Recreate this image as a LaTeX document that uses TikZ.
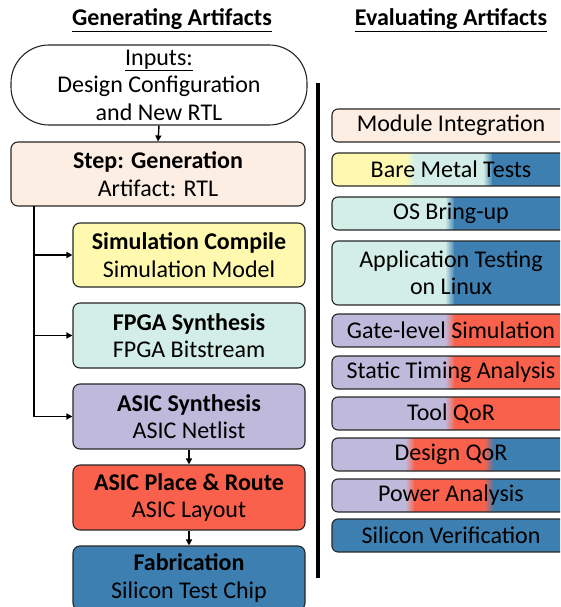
\documentclass[tikz,border=0pt]{standalone}
\usepackage{fontspec}
\setmainfont{Carlito}
\usetikzlibrary{arrows.meta}
\definecolor{cpeach}{HTML}{FCEEE2}
\definecolor{cyellow}{HTML}{FFF9B0}
\definecolor{cteal}{HTML}{D3EDE7}
\definecolor{clav}{HTML}{BFBADB}
\definecolor{cred}{HTML}{F9614D}
\definecolor{cblue}{HTML}{3D7FB0}
\definecolor{cedge}{HTML}{262626}
\tikzset{
  txt/.style={font=\fontsize{24}{27.5}\selectfont},
  title/.style={font=\fontsize{24}{28}\selectfont\bfseries},
  genbox/.style={txt, draw=cedge, line width=1.1pt, rounded corners=7pt, align=center, inner sep=0pt},
  evbox/.style={txt, draw=cedge, line width=1.1pt, rounded corners=6pt, align=center, inner sep=0pt, minimum width=238pt},
  arr/.style={line width=1.4pt, -{Triangle[length=6pt,width=6pt]}},
}
\newcommand\band[3]{\fill[#3] (#1,\ya) rectangle (#2,\yb);}
\newcommand\blend[4]{\shade[left color=#3,right color=#4] (#1,\ya) rectangle (#2,\yb);}
\newcommand\rowclip{\clip[rounded corners=6pt] (332,\ya) rectangle (570,\yb);}
\begin{document}
\begin{tikzpicture}[x=1pt,y=-1pt]
\useasboundingbox (0,0) rectangle (560,607);
\clip (0,0) rectangle (560,607);

% titles
\node[title] (tgen) at (172,20) {\underline{Generating Artifacts}};
\node[title] (tev) at (451,20) {\underline{Evaluating Artifacts}};

% left column
\node[genbox, rounded corners=38pt, minimum width=296pt, minimum height=80pt, fill=white] (inp) at (159,85)
  {\underline{Inputs:}\\Design Configuration\\and New RTL};
\node[genbox, fill=cpeach, minimum width=294pt, minimum height=64pt] (gen) at (158,174)
  {\textbf{Step: Generation}\\Artifact: RTL};
\node[genbox, fill=cyellow, minimum width=232pt, minimum height=64pt] (sim) at (189,255)
  {\textbf{Simulation Compile}\\Simulation Model};
\node[genbox, fill=cteal, minimum width=232pt, minimum height=65pt] (fpga) at (189,335.5)
  {\textbf{FPGA Synthesis}\\FPGA Bitstream};
\node[genbox, fill=clav, minimum width=232pt, minimum height=65pt] (asyn) at (189,416.5)
  {\textbf{ASIC Synthesis}\\ASIC Netlist};
\node[genbox, fill=cred, minimum width=232pt, minimum height=65pt] (pnr) at (189,497.5)
  {\textbf{ASIC Place \& Route}\\ASIC Layout};
\node[genbox, fill=cblue, minimum width=232pt, minimum height=64pt] (fab) at (189,578)
  {\textbf{Fabrication}\\Silicon Test Chip};

\draw[arr] (inp.south) -- (gen.north);
\coordinate (br) at (34,206);
\draw[arr] (br) |- (asyn.west);
\draw[arr] (br |- sim.west) -- (sim.west);
\draw[arr] (br |- fpga.west) -- (fpga.west);
\draw[arr] (asyn.south) -- (pnr.north);
\draw[arr] (pnr.south) -- (fab.north);

% divider
\coordinate (dtop) at (318,83);
\coordinate (dbot) at (318,578);
\draw[line width=3.5pt] (dtop) -- (dbot);

% right column backgrounds
\def\ya{109}\def\yb{142}
\begin{scope}\rowclip \band{332}{570}{cpeach}\end{scope}
\def\ya{153}\def\yb{186}
\begin{scope}\rowclip \band{332}{406}{cyellow}\blend{405}{415}{cyellow}{cteal}\band{414}{484}{cteal}\blend{483}{493}{cteal}{cblue}\band{492}{570}{cblue}\end{scope}
\def\ya{197}\def\yb{230}
\begin{scope}\rowclip \band{332}{446}{cteal}\blend{445}{455}{cteal}{cblue}\band{454}{570}{cblue}\end{scope}
\def\ya{241}\def\yb{305}
\begin{scope}\rowclip \band{332}{446}{cteal}\blend{445}{455}{cteal}{cblue}\band{454}{570}{cblue}\end{scope}
\def\ya{314}\def\yb{347}
\begin{scope}\rowclip \band{332}{446}{clav}\blend{445}{455}{clav}{cred}\band{454}{570}{cred}\end{scope}
\def\ya{356}\def\yb{389}
\begin{scope}\rowclip \band{332}{446}{clav}\blend{445}{455}{clav}{cred}\band{454}{570}{cred}\end{scope}
\def\ya{397}\def\yb{430}
\begin{scope}\rowclip \band{332}{446}{clav}\blend{445}{455}{clav}{cred}\band{454}{570}{cred}\end{scope}
\def\ya{438}\def\yb{471}
\begin{scope}\rowclip \band{332}{406}{clav}\blend{405}{415}{clav}{cred}\band{414}{485}{cred}\blend{484}{494}{cred}{cblue}\band{493}{570}{cblue}\end{scope}
\def\ya{479}\def\yb{512}
\begin{scope}\rowclip \band{332}{406}{clav}\blend{405}{415}{clav}{cred}\band{414}{485}{cred}\blend{484}{494}{cred}{cblue}\band{493}{570}{cblue}\end{scope}
\def\ya{519}\def\yb{552}
\begin{scope}\rowclip \band{332}{570}{cblue}\end{scope}

% right column boxes
\node[evbox, minimum height=33pt] (mi) at (451,125.5) {Module Integration};
\node[evbox, minimum height=33pt] (bm) at (451,169.5) {Bare Metal Tests};
\node[evbox, minimum height=33pt] (os) at (451,213.5) {OS Bring-up};
\node[evbox, minimum height=64pt] (app) at (451,273) {Application Testing\\on Linux};
\node[evbox, minimum height=33pt] (gls) at (451,330.5) {Gate-level Simulation};
\node[evbox, minimum height=33pt] (sta) at (451,372.5) {Static Timing Analysis};
\node[evbox, minimum height=33pt] (tq) at (451,413.5) {Tool QoR};
\node[evbox, minimum height=33pt] (dq) at (451,454.5) {Design QoR};
\node[evbox, minimum height=33pt] (pa) at (451,495.5) {Power Analysis};
\node[evbox, minimum height=33pt] (sv) at (451,535.5) {Silicon Verification};
\end{tikzpicture}
\end{document}
